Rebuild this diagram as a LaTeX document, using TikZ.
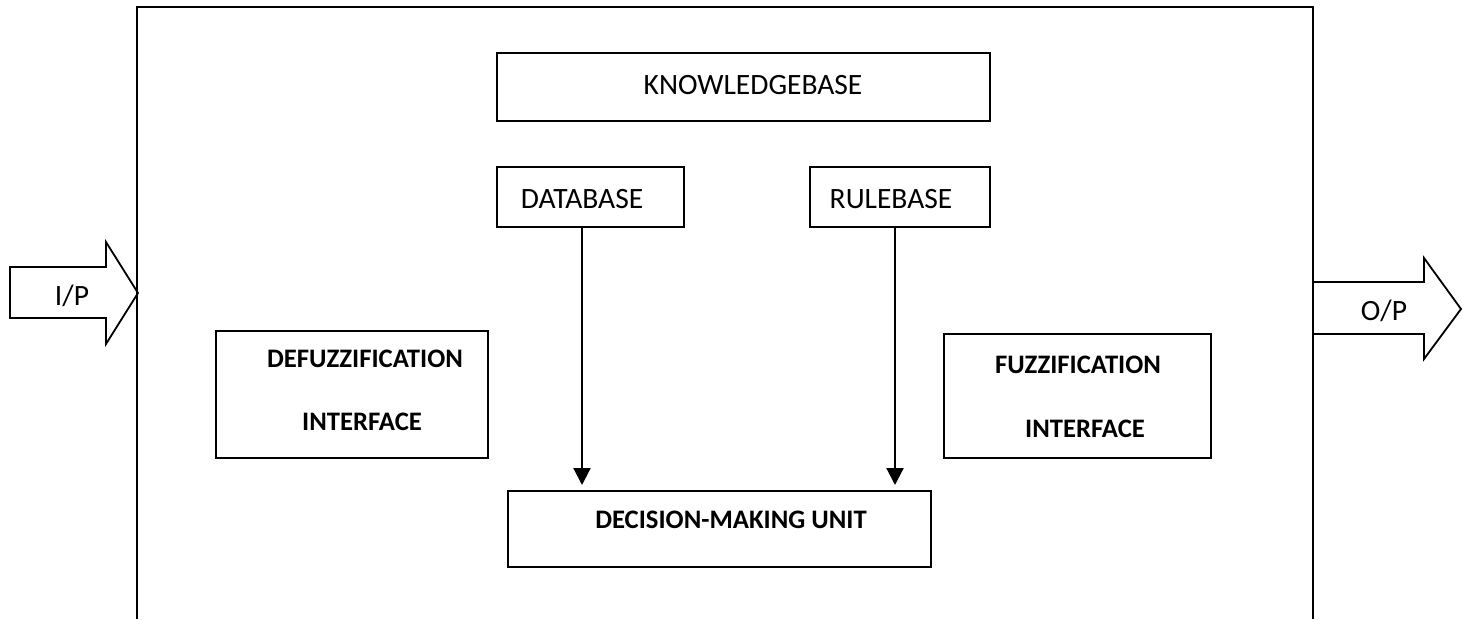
\documentclass[tikz,border=0pt]{standalone}
\usepackage{fontspec}
\setmainfont{Carlito}
\usetikzlibrary{arrows.meta,calc}
\tikzset{
  boxnode/.style={draw=black,line width=2pt,inner sep=0pt,rectangle},
  plaintext/.style={inner sep=0pt,font=\fontsize{29.5}{34}\selectfont},
  boldtext/.style={inner sep=0pt,font=\fontsize{26.7}{31}\selectfont\bfseries},
  frameline/.style={line width=2.6pt,draw=black},
  bigarrow/.style={line width=1.8pt,draw=black,line join=miter},
  conn/.style={line width=2.2pt,-{Triangle[width=17pt,length=17pt]},shorten >=5pt}
}
\begin{document}
\begin{tikzpicture}[x=1pt,y=-1pt]
\useasboundingbox (0,0) rectangle (1467,619);
% outer frame (open at bottom)
\draw[frameline] (137,619) -- (137,7) -- (1313,7) -- (1313,619);
% boxes
\node[boxnode,minimum width=493pt,minimum height=68pt] (kb) at (743.5,87) {};
\node[boxnode,minimum width=187pt,minimum height=60pt] (db) at (590.5,197) {};
\node[boxnode,minimum width=180pt,minimum height=60pt] (rb) at (900,197) {};
\node[boxnode,minimum width=272pt,minimum height=127pt] (defz) at (352,394.5) {};
\node[boxnode,minimum width=267pt,minimum height=124pt] (fz) at (1077.5,396) {};
\node[boxnode,minimum width=423pt,minimum height=76pt] (dmu) at (719.5,529) {};
% texts
\node[plaintext] (kbt) at (753,85) {KNOWLEDGEBASE};
\node[plaintext] (dbt) at (582,199) {DATABASE};
\node[plaintext] (rbt) at (891,199) {RULEBASE};
\node[boldtext] (defzt1) at (365,359) {DEFUZZIFICATION};
\node[boldtext] (defzt2) at (362,422) {INTERFACE};
\node[boldtext] (fzt1) at (1078,365) {FUZZIFICATION};
\node[boldtext] (fzt2) at (1085,429) {INTERFACE};
\node[boldtext] (dmut) at (731,520) {DECISION-MAKING UNIT};
% connectors
\draw[conn] ([xshift=-8.5pt]db.south) -- ([xshift=-8.5pt]db.south |- dmu.north);
\draw[conn] ([xshift=-5pt]rb.south) -- ([xshift=-5pt]rb.south |- dmu.north);
% input arrow
\draw[bigarrow] (10,267) -- (106,267) -- (106,242) -- (138,293) -- (106,344) -- (106,318) -- (10,318) -- cycle;
\node[plaintext] (ipt) at (72,296) {I/P};
% output arrow
\draw[bigarrow] (1313,282) -- (1424,282) -- (1424,258) -- (1461,309) -- (1424,359) -- (1424,334) -- (1313,334);
\node[plaintext] (opt) at (1384,311) {O/P};
\end{tikzpicture}
\end{document}
